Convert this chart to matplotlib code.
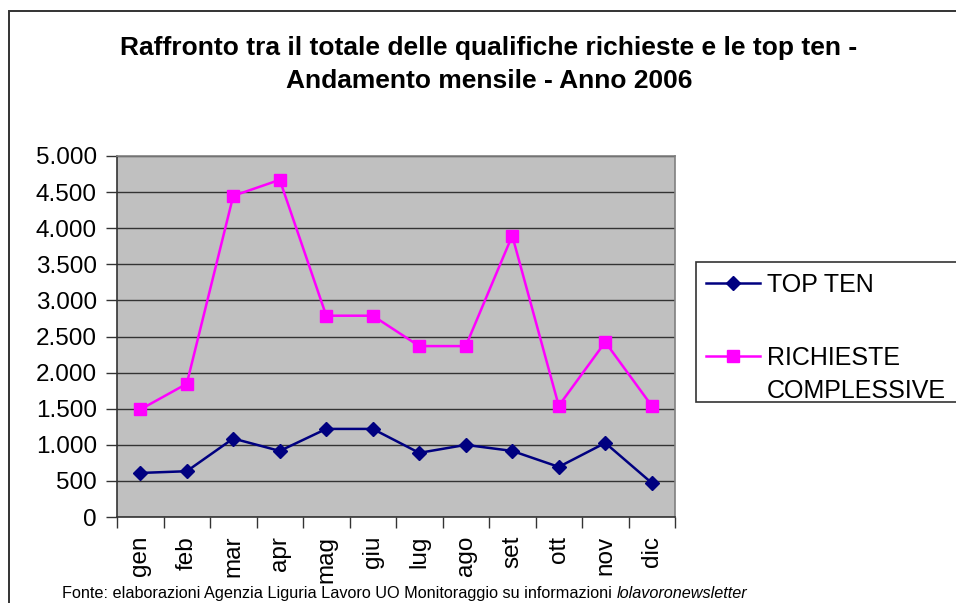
import numpy as np
import matplotlib
matplotlib.use("Agg")
import matplotlib.pyplot as plt
from matplotlib.lines import Line2D
from matplotlib.patches import Rectangle
from matplotlib.ticker import FuncFormatter, MultipleLocator, FixedLocator

plt.rcParams['font.family'] = ['Liberation Sans', 'DejaVu Sans']

months = ["gen", "feb", "mar", "apr", "mag", "giu",
          "lug", "ago", "set", "ott", "nov", "dic"]
top_ten = [610, 634, 1087, 915, 1220, 1220, 888, 999, 915, 694, 1026, 472]
richieste = [1489, 1845, 4448, 4670, 2788, 2788, 2367, 2367, 3897, 1540, 2423, 1540]

title_1 = "Raffronto tra il totale delle qualifiche richieste e le top ten -"
title_2 = "Andamento mensile - Anno 2006"
source = "Fonte: elaborazioni Agenzia Liguria Lavoro UO Monitoraggio su informazioni "
source_it = "lolavoronewsletter"

W, H = 956, 603
fig = plt.figure(figsize=(W / 100, H / 100), dpi=100)

# outer chart border (only left/top visible)
fig.add_artist(Rectangle((9 / W, -0.2), 1.2, 1.2 - 11 / H, transform=fig.transFigure,
                         fill=False, edgecolor="#333333", linewidth=1.4))

ax = fig.add_axes([117 / W, 1 - 517 / H, (675 - 117) / W, (517 - 156) / H])
ax.set_facecolor("#c0c0c0")

x = np.arange(len(months))
ax.plot(x, top_ten, color="#000080", lw=1.8, marker="D", ms=7.5, zorder=3)
ax.plot(x, richieste, color="#ff00ff", lw=1.8, marker="s", ms=8, zorder=3)

ax.set_xlim(-0.5, len(months) - 0.5)
ax.set_ylim(0, 5000)
ax.yaxis.set_major_locator(MultipleLocator(500))
ax.yaxis.set_major_formatter(FuncFormatter(lambda v, p: f"{int(v):,}".replace(",", ".")))
ax.grid(axis="y", color="#333333", lw=1.0)
ax.set_axisbelow(True)

ax.xaxis.set_major_locator(FixedLocator(np.arange(-0.5, len(months), 1.0)))
ax.xaxis.set_major_formatter(FuncFormatter(lambda v, p: ""))
ax.xaxis.set_minor_locator(FixedLocator(x))
ax.set_xticklabels(months, minor=True, rotation=90, fontsize=17.5)
ax.tick_params(axis="x", which="major", length=8, width=1, color="#333333")
ax.tick_params(axis="x", which="minor", length=0, pad=13.5)
ax.tick_params(axis="y", length=8, width=1, color="#333333", labelsize=17.5, pad=6.5)

for s in ["left", "bottom"]:
    ax.spines[s].set_color("#333333")
    ax.spines[s].set_linewidth(1.2)
for s in ["top", "right"]:
    ax.spines[s].set_color("#808080")
    ax.spines[s].set_linewidth(1.2)

fig.text(489 / W, 1 - 55 / H, title_1, ha="center", va="baseline", fontsize=19,
         fontweight="bold")
fig.text(489 / W, 1 - 88 / H, title_2, ha="center", va="baseline", fontsize=19,
         fontweight="bold")

# legend box
fig.add_artist(Rectangle((696 / W, 1 - 402 / H), 300 / W, 140 / H, transform=fig.transFigure,
                         facecolor="white", edgecolor="#333333", linewidth=1.2))
fig.add_artist(Line2D([706 / W, 760 / W], [1 - 283 / H] * 2, transform=fig.transFigure,
                      color="#000080", lw=1.8))
fig.add_artist(Line2D([733 / W], [1 - 283 / H], transform=fig.transFigure,
                      color="#000080", marker="D", ms=7.5))
fig.add_artist(Line2D([706 / W, 760 / W], [1 - 356 / H] * 2, transform=fig.transFigure,
                      color="#ff00ff", lw=1.8))
fig.add_artist(Line2D([733 / W], [1 - 356 / H], transform=fig.transFigure,
                      color="#ff00ff", marker="s", ms=8))
fig.text(767 / W, 1 - 285 / H, "TOP TEN", ha="left", va="center", fontsize=18)
fig.text(767 / W, 1 - 358 / H, "RICHIESTE", ha="left", va="center", fontsize=18)
fig.text(767 / W, 1 - 391 / H, "COMPLESSIVE", ha="left", va="center", fontsize=18)

t1 = fig.text(62 / W, 1 - 598 / H, source, ha="left", va="baseline", fontsize=11.7)
ax.annotate(source_it, xy=(1, 0), xycoords=t1, ha="left", va="bottom",
            fontsize=11.7, style="italic", annotation_clip=False)

fig.savefig("out.png", dpi=100)
